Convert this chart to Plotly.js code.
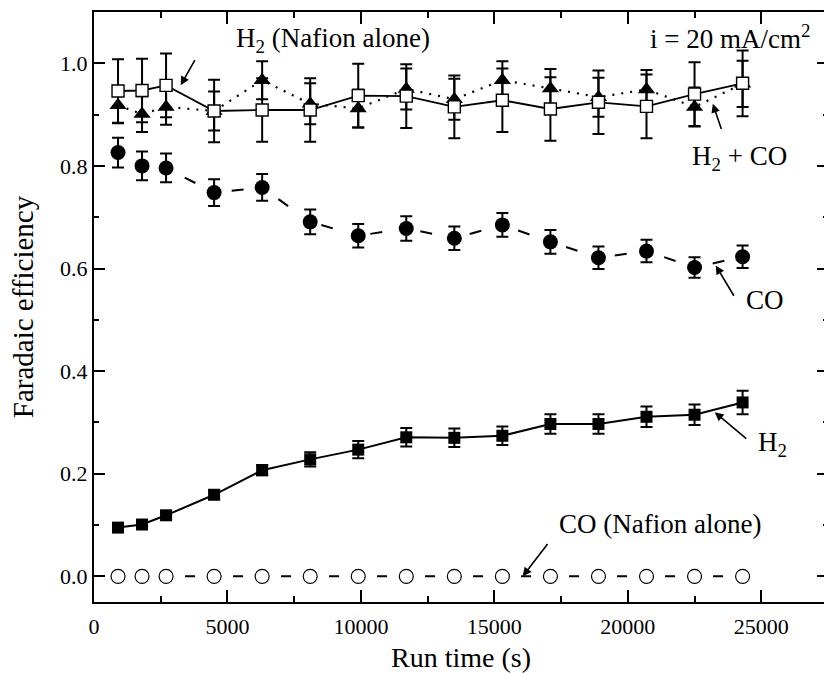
<!DOCTYPE html>
<html>
<head>
<meta charset="utf-8">
<script src="https://cdn.plot.ly/plotly-3.0.1.min.js"></script>
<style>
html,body{margin:0;padding:0;overflow:hidden;background:#fff;}
#chart{width:828px;height:673px;}
</style>
</head>
<body>
<div id="chart"></div>
<script>
// Run time (s)
const runTime = [900, 1800, 2700, 4500, 6300, 8100, 9900, 11700, 13500, 15300, 17100, 18900, 20700, 22500, 24300];

// H2 + CO (solid triangles, dotted line)
const h2co     = [0.918, 0.901, 0.915, 0.907, 0.967, 0.921, 0.912, 0.950, 0.930, 0.967, 0.951, 0.934, 0.949, 0.915, 0.960];
const h2coErr  = [0.035, 0.035, 0.035, 0.038, 0.037, 0.040, 0.037, 0.040, 0.040, 0.037, 0.038, 0.038, 0.038, 0.038, 0.045];

// H2 (Nafion alone) (open squares, solid line)
const h2Naf    = [0.946, 0.947, 0.957, 0.907, 0.909, 0.909, 0.937, 0.936, 0.915, 0.928, 0.911, 0.924, 0.916, 0.940, 0.961];
const h2NafErr = [0.062, 0.062, 0.062, 0.061, 0.062, 0.062, 0.062, 0.062, 0.061, 0.062, 0.062, 0.062, 0.062, 0.062, 0.064];

// CO (solid circles, dashed line)
const co       = [0.826, 0.800, 0.796, 0.748, 0.758, 0.691, 0.664, 0.678, 0.659, 0.685, 0.652, 0.621, 0.634, 0.602, 0.623];
const coErr    = [0.029, 0.028, 0.028, 0.026, 0.026, 0.024, 0.023, 0.024, 0.023, 0.023, 0.023, 0.022, 0.022, 0.020, 0.022];

// H2 (solid squares, solid line)
const h2       = [0.095, 0.101, 0.119, 0.159, 0.207, 0.228, 0.247, 0.271, 0.270, 0.274, 0.297, 0.297, 0.311, 0.315, 0.339];
const h2Err    = [0.005, 0.005, 0.006, 0.008, 0.010, 0.014, 0.017, 0.018, 0.018, 0.018, 0.019, 0.019, 0.020, 0.020, 0.023];

// CO (Nafion alone) (open circles, dashed line)
const coNaf    = [0, 0, 0, 0, 0, 0, 0, 0, 0, 0, 0, 0, 0, 0, 0];

const xTickVals = [0, 5000, 10000, 15000, 20000, 25000];
const xTickText = ['0', '5000', '10000', '15000', '20000', '25000'];
const yTickVals = [0.0, 0.2, 0.4, 0.6, 0.8, 1.0];
const yTickText = ['0.0', '0.2', '0.4', '0.6', '0.8', '1.0'];

const FONT = 'Liberation Serif, Times New Roman, serif';

function err(arr){
  return {type:'data', array:arr, visible:true, color:'#000', thickness:2, width:6};
}

const traces = [
  {
    x: runTime, y: h2co, mode:'lines+markers', name:'H2 + CO',
    line:{color:'#000', width:2.2, dash:'2px,7px'},
    marker:{symbol:'triangle-up', size:15, color:'#000'},
    error_y: err(h2coErr)
  },
  {
    x: runTime, y: h2Naf, mode:'lines+markers', name:'H2 (Nafion alone)',
    line:{color:'#000', width:1.8},
    marker:{symbol:'square', size:12, color:'#fff', line:{color:'#000', width:1.4}},
    error_y: err(h2NafErr)
  },
  {
    x: runTime, y: co, mode:'lines+markers', name:'CO',
    line:{color:'#000', width:2, dash:'0px,21.9px,12px,16.76px'},
    marker:{symbol:'circle', size:15, color:'#000'},
    error_y: err(coErr)
  },
  {
    x: runTime, y: h2, mode:'lines+markers', name:'H2',
    line:{color:'#000', width:2},
    marker:{symbol:'square', size:12, color:'#000'},
    error_y: err(h2Err)
  },
  {
    x: runTime, y: coNaf, mode:'lines+markers', name:'CO (Nafion alone)',
    line:{color:'#000', width:2, dash:'0px,19px,10px,19px'},
    marker:{symbol:'circle', size:14, color:'#fff', line:{color:'#000', width:1.2}}
  }
];

function arrow(hx, hy, tx, ty){
  return {x:hx, y:hy, ax:tx, ay:ty, xref:'x', yref:'y', axref:'x', ayref:'y',
          text:'', showarrow:true, arrowhead:2, arrowsize:1.1, arrowwidth:1.6,
          arrowcolor:'#000', standoff:0, startstandoff:0};
}
function label(txt, x, y, xanchor){
  return {x:x, y:y, xref:'x', yref:'y', text:txt, showarrow:false,
          xanchor:xanchor||'center', yanchor:'middle',
          font:{family:FONT, size:27, color:'#000'}};
}

const layout = {
  width:828, height:673,
  margin:{l:94, r:0, t:12, b:71},
  paper_bgcolor:'#fff', plot_bgcolor:'#fff',
  showlegend:false,
  font:{family:FONT, color:'#000'},
  xaxis:{
    range:[0, 27500],
    tickmode:'array', tickvals:xTickVals, ticktext:xTickText,
    ticks:'inside', ticklen:12, tickwidth:2, tickcolor:'#000',
    minor:{dtick:2500, tick0:0, ticks:'inside', ticklen:6, tickwidth:2, tickcolor:'#000'},
    showline:true, linewidth:2, linecolor:'#000', mirror:'ticks',
    showgrid:false, zeroline:false,
    ticklabelstandoff:4,
    tickfont:{family:FONT, size:22, color:'#000'},
    title:{text:'Run time (s)', font:{family:FONT, size:28, color:'#000'}, standoff:12}
  },
  yaxis:{
    range:[-0.05, 1.1],
    tickmode:'array', tickvals:yTickVals, ticktext:yTickText,
    ticks:'inside', ticklen:11, tickwidth:2, tickcolor:'#000',
    minor:{dtick:0.1, tick0:0, ticks:'inside', ticklen:5, tickwidth:2, tickcolor:'#000'},
    showline:true, linewidth:2, linecolor:'#000', mirror:'ticks',
    showgrid:false, zeroline:false,
    tickfont:{family:FONT, size:22, color:'#000'},
    title:{text:'Faradaic efficiency', font:{family:FONT, size:29, color:'#000'}, standoff:18}
  },
  annotations:[
    label('H<sub>2</sub> (Nafion alone)', 8943, 1.046),
    label('i = 20 mA/cm<sup>2</sup>', 26890, 1.052, 'right'),
    label('H<sub>2</sub> + CO', 24194, 0.815),
    label('CO', 25130, 0.538),
    label('H<sub>2</sub>', 25430, 0.258),
    label('CO (Nafion alone)', 21196, 0.1026),
    arrow(3248, 0.957, 3810, 1.009),
    arrow(23185, 0.921, 23522, 0.869),
    arrow(23294, 0.606, 24006, 0.544),
    arrow(23257, 0.320, 24493, 0.266),
    arrow(16063, 0.000, 17037, 0.066)
  ]
};

Plotly.newPlot('chart', traces, layout, {staticPlot:true, displayModeBar:false});
</script>
</body>
</html>
